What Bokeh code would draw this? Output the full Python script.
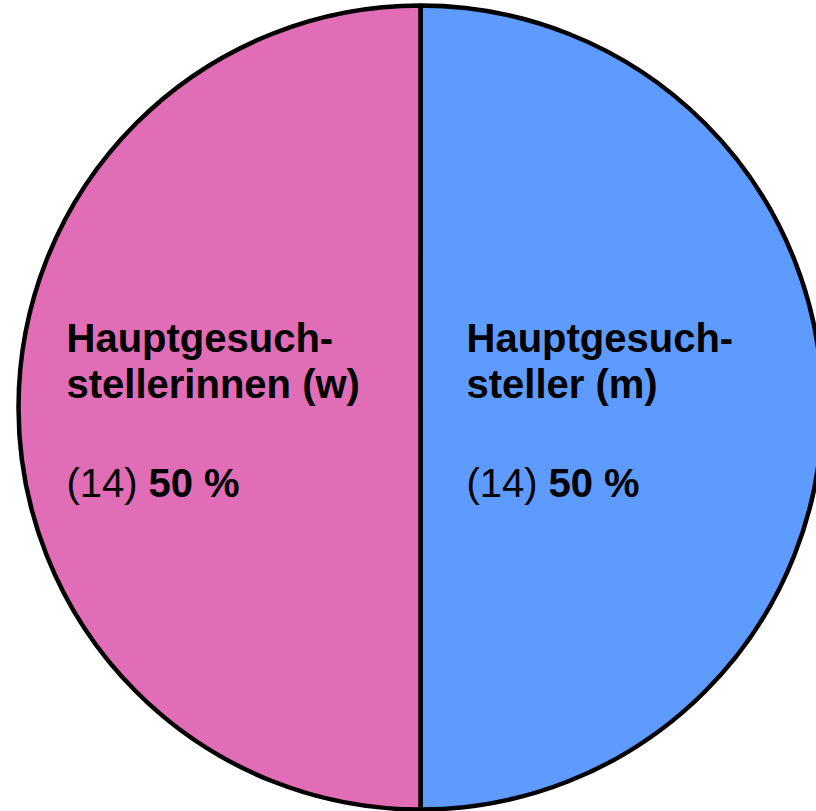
import numpy as np
from bokeh.plotting import figure
from bokeh.models import ColumnDataSource, Range1d
from bokeh.core.properties import value
from bokeh.embed import file_html
from bokeh.resources import INLINE

# ---- data ----
categories = ["Hauptgesuchsteller (m)", "Hauptgesuchstellerinnen (w)"]
counts = [14, 14]
line1 = ["Hauptgesuch-", "Hauptgesuch-"]
line2 = ["steller (m)", "stellerinnen (w)"]
count_labels = ["(14) ", "(14) "]
pct_labels = ["50 %", "50 %"]
colors = ["#5E9BFE", "#E06DB6"]

# ---- layout ----
W, H = 816, 811
cx, cy, R = 420, 404, 402

total = sum(counts)
fr = np.array(counts) / total
start = -np.pi / 2 + np.concatenate([[0], np.cumsum(fr)[:-1]]) * 2 * np.pi
end = start + fr * 2 * np.pi

src = ColumnDataSource(dict(cat=categories, count=counts, start=start, end=end,
                            color=colors))

p = figure(width=W, height=H, output_backend="svg", toolbar_location=None,
           x_range=Range1d(0, W), y_range=Range1d(0, H), min_border=0)
p.wedge(x=cx, y=cy, radius=R, start_angle="start", end_angle="end",
        fill_color="color", line_color="black", line_width=4.5, source=src)

# label anchor: left edge of text for each slice (m on right, w on left)
mid = (start + end) / 2
tx = [cx + 46 if np.cos(m) > 0 else cx - 354 for m in mid]
font = value("Liberation Sans")
lbl = ColumnDataSource(dict(x=tx, l1=line1, l2=line2, c=count_labels, pct=pct_labels))
p.text(x="x", y=cy + 70, text="l1", source=lbl, text_font=font, text_font_size="40px",
       text_font_style="bold", text_color="black", text_baseline="alphabetic")
p.text(x="x", y=cy + 24, text="l2", source=lbl, text_font=font, text_font_size="40px",
       text_font_style="bold", text_color="black", text_baseline="alphabetic")
p.text(x="x", y=cy - 75, text="c", source=lbl, text_font=font, text_font_size="40px",
       text_color="black", text_baseline="alphabetic")
p.text(x="x", y=cy - 75, x_offset=82, text="pct", source=lbl, text_font=font,
       text_font_size="40px", text_font_style="bold", text_color="black",
       text_baseline="alphabetic")

p.axis.visible = False
p.grid.visible = False
p.outline_line_color = None
p.border_fill_color = "white"
p.background_fill_color = "white"

open("out.html", "w").write(file_html(p, INLINE))
